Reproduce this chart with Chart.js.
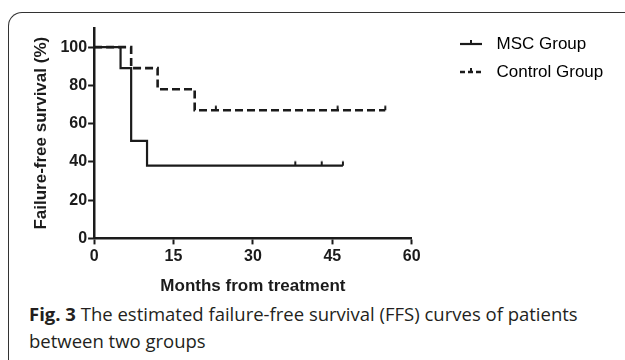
<!DOCTYPE html>
<html>
<head>
<meta charset="utf-8">
<script src="https://cdn.jsdelivr.net/npm/chart.js@4.4.1/dist/chart.umd.min.js"></script>
<style>
  html, body { margin: 0; padding: 0; background: #fff; }
  body { width: 625px; height: 360px; position: relative; overflow: hidden; }
  .frame {
    position: absolute; left: 8px; top: 12px; width: 640px; height: 380px;
    border-top: 1.5px solid #333; border-left: 1.5px solid #333;
    border-top-left-radius: 14px;
  }
  .plot { position: absolute; left: 0; top: 0; width: 625px; height: 300px; }
  .caption {
    position: absolute; left: 29px; top: 300px; width: 590px;
    font-family: "Open Sans", sans-serif; font-size: 18.5px;
    line-height: 27px; color: #231f20;
  }
  .caption b { font-weight: 700; }
</style>
</head>
<body>
<div class="frame"></div>
<div class="plot"><canvas id="ffs"></canvas></div>
<div class="caption"><b>Fig. 3</b> The estimated failure-free survival (FFS) curves of patients<br>between two groups</div>
<script>
// Kaplan-Meier steps (months, % failure-free)
const mscMonths = [0, 5, 7, 10, 38, 43, 47];
const mscSurvival = [100, 89, 51, 38, 38, 38, 38];
const mscCensored = [false, false, false, false, true, true, true];

const controlMonths = [0, 7, 12, 19, 23, 46, 55];
const controlSurvival = [100, 89, 78, 67, 67, 67, 67];
const controlCensored = [false, false, false, false, true, true, true];

const groupLabels = ['MSC Group', 'Control Group'];
const xTicks = [0, 15, 30, 45, 60];
const yTicks = [0, 20, 40, 60, 80, 100];

const INK = '#1b1b1b';
const FONT = 'Liberation Sans, Arial, sans-serif';

function points(xs, ys) {
  return xs.map((x, i) => ({ x, y: ys[i] }));
}

// small upward tick used for censored patients
function censorMark() {
  const c = document.createElement('canvas');
  c.width = 4; c.height = 14;
  const g = c.getContext('2d');
  g.strokeStyle = INK; g.lineWidth = 2;
  g.beginPath(); g.moveTo(2, 7); g.lineTo(2, 2.5); g.stroke();
  return c;
}

function legendMark(dash, width) {
  const c = document.createElement('canvas');
  c.width = 28; c.height = 14;
  const g = c.getContext('2d');
  g.strokeStyle = INK; g.lineWidth = width;
  g.setLineDash(dash);
  g.beginPath(); g.moveTo(0, 7); g.lineTo(22, 7); g.stroke();
  g.setLineDash([]);
  g.lineWidth = 2;
  g.beginPath(); g.moveTo(11, 7); g.lineTo(11, 3); g.stroke();
  return c;
}

const tick = censorMark();

// put the legend where the figure has it, to the right of the plot
const legendNudge = {
  id: 'legendNudge',
  afterLayout(chart) {
    const lg = chart.legend;
    lg.left = 449; lg.right = 625;
    lg.top = 24.5;
  }
};

new Chart(document.getElementById('ffs'), {
  type: 'line',
  data: {
    datasets: [{
      label: groupLabels[0],
      data: points(mscMonths, mscSurvival),
      stepped: 'before',
      borderColor: INK,
      borderWidth: 2.2,
      fill: false,
      pointStyle: tick,
      pointRadius: ctx => mscCensored[ctx.dataIndex] ? 4 : 0,
      pointHoverRadius: 0
    }, {
      label: groupLabels[1],
      data: points(controlMonths, controlSurvival),
      stepped: 'before',
      borderColor: INK,
      borderWidth: 2.6,
      borderDash: [8, 4],
      fill: false,
      pointStyle: tick,
      pointRadius: ctx => controlCensored[ctx.dataIndex] ? 4 : 0,
      pointHoverRadius: 0
    }]
  },
  options: {
    responsive: true,
    maintainAspectRatio: false,
    animation: false,
    layout: { padding: { left: 27, right: 49, top: 28, bottom: 0 } },
    scales: {
      x: {
        type: 'linear',
        min: 0, max: 60,
        afterBuildTicks: s => { s.ticks = xTicks.map(v => ({ value: v })); },
        border: { display: true, color: INK, width: 2.5 },
        grid: { display: true, drawOnChartArea: false, drawTicks: true, tickLength: 6, tickWidth: 2, tickColor: INK },
        ticks: { color: INK, padding: 3, maxRotation: 0, font: { family: FONT, size: 16, weight: 'bold' } },
        title: {
          display: true, text: 'Months from treatment', color: INK,
          padding: { top: 7, bottom: 3 },
          font: { family: FONT, size: 17, weight: 'bold' }
        }
      },
      y: {
        type: 'linear',
        min: 0, max: 110,
        afterBuildTicks: s => { s.ticks = yTicks.map(v => ({ value: v })); },
        border: { display: true, color: INK, width: 2.5 },
        grid: { display: true, drawOnChartArea: false, drawTicks: true, tickLength: 6, tickWidth: 2, tickColor: INK },
        ticks: { color: INK, padding: 1, font: { family: FONT, size: 16, weight: 'bold' } },
        title: {
          display: true, text: 'Failure-free survival (%)', color: INK,
          padding: { top: 4, bottom: 8 },
          font: { family: FONT, size: 17, weight: 'bold' }
        }
      }
    },
    plugins: {
      legend: {
        position: 'right',
        align: 'start',
        maxWidth: 220,
        labels: {
          usePointStyle: true,
          pointStyleWidth: 28,
          padding: 11,
          color: INK,
          font: { family: FONT, size: 17 },
          generateLabels: () => [
            { text: groupLabels[0], pointStyle: legendMark([], 2.2), fillStyle: INK, strokeStyle: INK, lineWidth: 0, hidden: false, datasetIndex: 0 },
            { text: groupLabels[1], pointStyle: legendMark([5, 3], 2.6), fillStyle: INK, strokeStyle: INK, lineWidth: 0, hidden: false, datasetIndex: 1 }
          ]
        }
      },
      tooltip: { enabled: false }
    },
    events: []
  },
  plugins: [legendNudge]
});
</script>
</body>
</html>
